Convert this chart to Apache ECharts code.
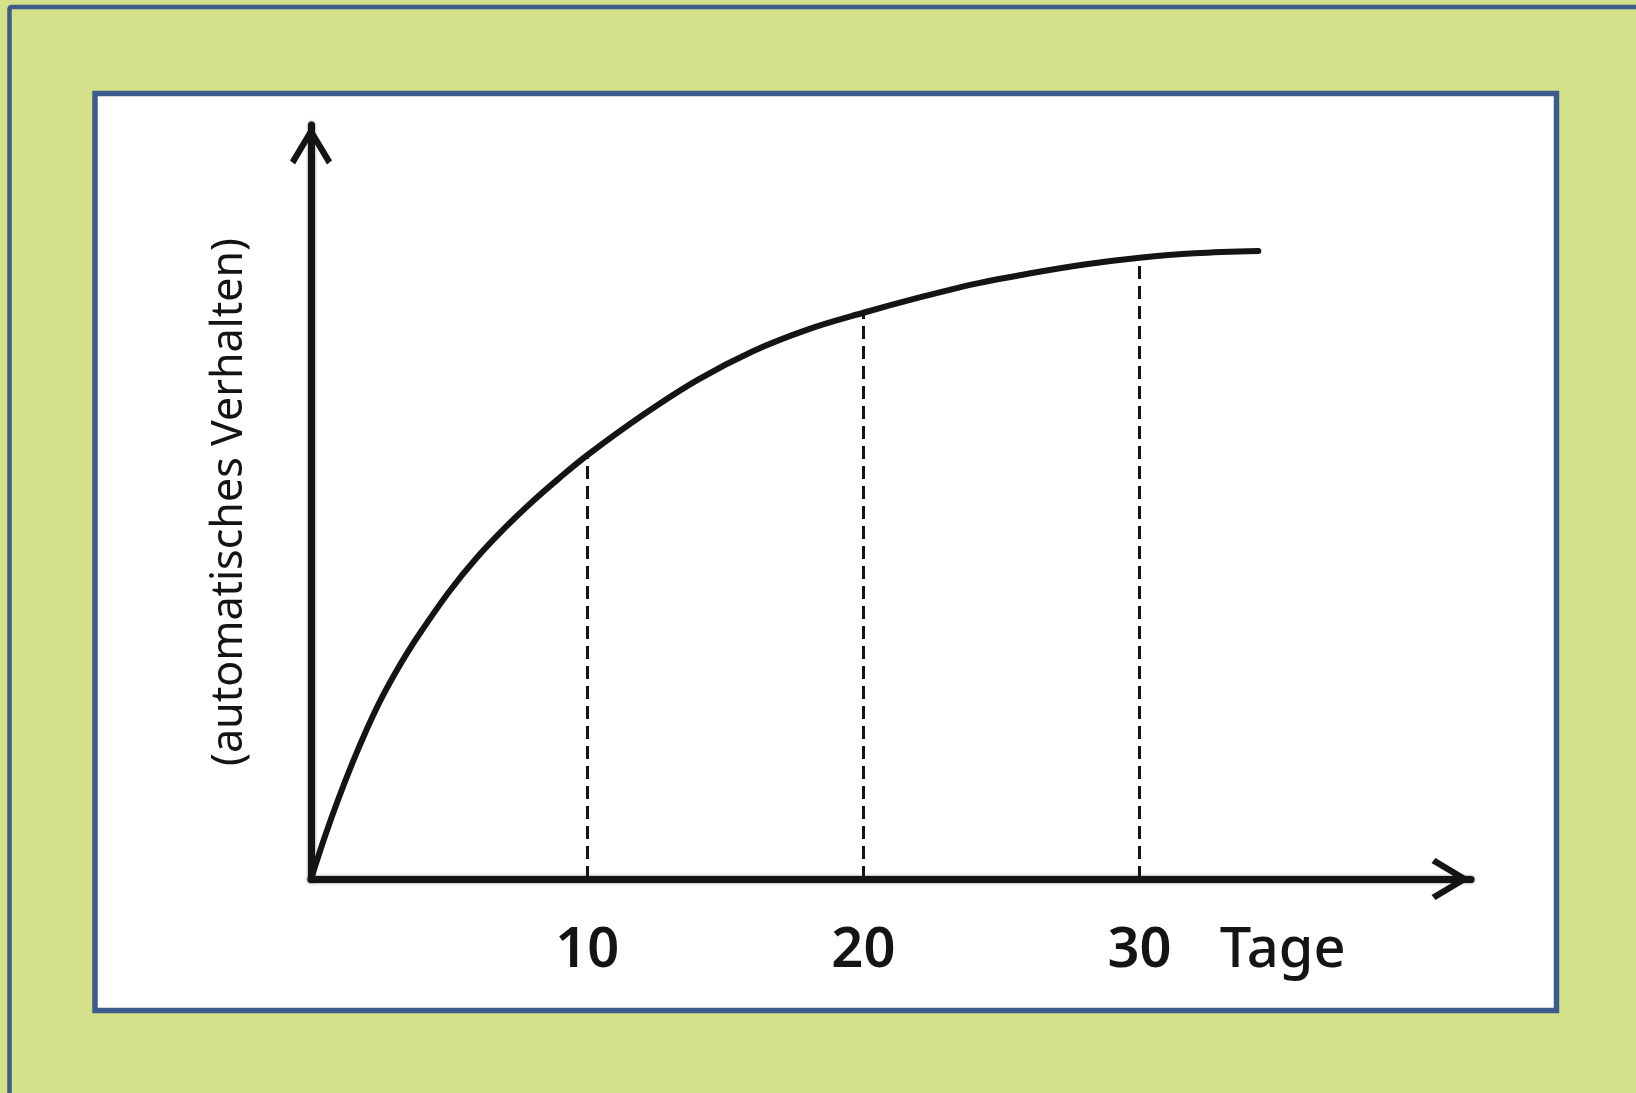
<!DOCTYPE html>
<html>
<head>
<meta charset="utf-8">
<title>Automatisches Verhalten</title>
<script src="https://cdn.jsdelivr.net/npm/echarts@6/dist/echarts.min.js"></script>
<style>
    html, body { margin: 0; padding: 0; background: #d4e08a; }
    #chart { width: 1636px; height: 1093px; }
</style>
</head>
<body>
<div id="chart"></div>
<script>
// values (x = Tage, y = share of the axis height, 0..100)
var curveDays = [0, 0.5, 1, 1.5, 2, 2.5, 3, 3.5, 4, 5, 6, 7, 8, 9, 10, 12, 14, 16, 18, 20, 22, 24, 26, 28, 30, 32, 34.3];
var curveValues = [0, 5.6, 10.7, 15.4, 19.7, 23.6, 27.0, 30.1, 32.9, 38.1, 42.6, 46.5, 50.0, 53.2, 56.2, 61.5, 66.2, 70.0, 72.9, 75.1, 77.1, 78.9, 80.3, 81.5, 82.4, 83.0, 83.3];
var dropDays = [10, 20, 30];
var dropValues = [56.2, 75.1, 82.4];
var tickLabels = ['10', '20', '30'];
var unitLabel = 'Tage';
var yTitle = '(automatisches Verhalten)';

var ink = '#141414';
var frameBlue = '#3c5d8c';
// open chevron, pointing up (ECharts turns it along the axis)
var chevron = 'path://M21,0 L42,35 L37,39 L21,12 L5,39 L0,35 Z';

function buildCurve() {
    var data = [];
    for (var i = 0; i < curveDays.length; i++) {
        data.push([curveDays[i], curveValues[i]]);
    }
    return data;
}

function buildDrops() {
    var lines = [];
    for (var i = 0; i < dropDays.length; i++) {
        lines.push([{ coord: [dropDays[i], 0] }, { coord: [dropDays[i], dropValues[i]] }]);
    }
    return lines;
}

var axisLineStyle = {
    color: ink,
    width: 7,
    shadowBlur: 3,
    shadowColor: 'rgba(0,0,0,0.55)'
};

var chart = echarts.init(document.getElementById('chart'));
var option = {
    animation: false,
    backgroundColor: '#d4e08a',
    graphic: [
        {
            type: 'rect',
            z: -10,
            shape: { x: 9.5, y: 7, width: 1700, height: 1200, r: 2 },
            style: { fill: 'none', stroke: frameBlue, lineWidth: 4.5 }
        },
        {
            type: 'rect',
            z: -9,
            shape: { x: 95, y: 93.5, width: 1461.5, height: 917 },
            style: { fill: '#ffffff', stroke: frameBlue, lineWidth: 5.5 }
        }
    ],
    grid: {
        left: 311,
        top: 125,
        width: 1160,
        height: 754,
        containLabel: false,
        outerBoundsMode: 'none'
    },
    xAxis: {
        type: 'value',
        min: 0,
        max: 42,
        interval: 10,
        splitLine: { show: false },
        axisTick: { show: false },
        axisLine: {
            onZero: false,
            symbol: ['none', chevron],
            symbolSize: [42, 40],
            symbolOffset: [0, -20],
            lineStyle: axisLineStyle
        },
        axisLabel: {
            margin: 72,
            verticalAlign: 'middle',
            color: ink,
            fontFamily: 'Noto Sans',
            fontSize: 56,
            fontWeight: 600,
            formatter: function (value) {
                var idx = dropDays.indexOf(value);
                if (idx < 0) return '';
                if (idx === tickLabels.length - 1) {
                    return '{pad|}{n|' + tickLabels[idx] + '}{t|' + unitLabel + '}';
                }
                return tickLabels[idx];
            },
            rich: {
                pad: { width: 150, padding: [0, 0, 0, 36] },
                n: { fontFamily: 'Noto Sans', fontSize: 56, fontWeight: 600, color: ink },
                t: { width: 150, padding: [0, 0, 0, 36], fontFamily: 'Noto Sans', fontSize: 56, fontWeight: 500, color: ink }
            }
        }
    },
    yAxis: {
        type: 'value',
        min: 0,
        max: 100,
        splitLine: { show: false },
        axisTick: { show: false },
        axisLabel: { show: false },
        axisLine: {
            onZero: false,
            symbol: ['none', chevron],
            symbolSize: [42, 40],
            symbolOffset: [0, -20],
            lineStyle: axisLineStyle
        },
        name: yTitle,
        nameLocation: 'middle',
        nameRotate: 90,
        nameGap: 60,
        nameTextStyle: {
            color: ink,
            fontFamily: 'Noto Sans',
            fontSize: 43
        }
    },
    series: [
        {
            name: 'Verhalten',
            type: 'line',
            data: buildCurve(),
            smooth: 0.35,
            showSymbol: false,
            silent: true,
            lineStyle: { color: ink, width: 6, cap: 'round', join: 'round' },
            markLine: {
                silent: true,
                symbol: ['none', 'none'],
                label: { show: false },
                lineStyle: { color: ink, width: 3, type: [13, 7] },
                emphasis: { disabled: true },
                data: buildDrops()
            }
        }
    ]
};
chart.setOption(option);
</script>
</body>
</html>
